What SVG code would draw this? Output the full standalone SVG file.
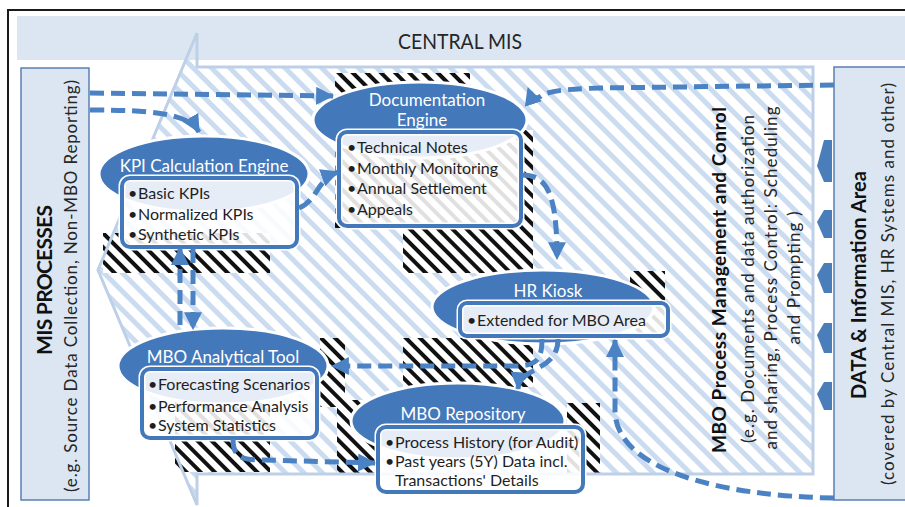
<svg xmlns="http://www.w3.org/2000/svg" width="905" height="507" viewBox="0 0 905 507">
  <defs>
    <!-- pale diagonal hatch used for the big process arrow -->
    <pattern id="paleHatch" patternUnits="userSpaceOnUse" width="13" height="13" patternTransform="rotate(45)">
      <rect width="13" height="13" fill="#ffffff"/>
      <rect width="13" height="5" fill="#cbdcf0"/>
    </pattern>
    <!-- strong black/white diagonal hatch -->
    <pattern id="blackHatch" patternUnits="userSpaceOnUse" width="10" height="10" patternTransform="rotate(45)">
      <rect width="10" height="10" fill="#ffffff"/>
      <rect width="10" height="4" fill="#111111"/>
    </pattern>
    <marker id="arrow" markerUnits="userSpaceOnUse" markerWidth="18" markerHeight="18" viewBox="0 0 16 16" refX="15" refY="8" orient="auto">
      <path d="M0,0 L16,8 L0,16 Z" fill="#4a82c3"/>
    </marker>
  </defs>
  <style>
    .title { font-family: Lato, "Open Sans", sans-serif; font-size: 17px; fill: #ffffff; text-anchor: middle; dominant-baseline: central; }
    .item { font-family: Lato, "Open Sans", sans-serif; font-size: 16px; fill: #1f1f1f; dominant-baseline: central; }
    .ell { fill: #4378bb; stroke: #ffffff; stroke-width: 3; }
    .box { fill: #ffffff; fill-opacity: 0.87; stroke: #4378bb; stroke-width: 4; }
    .halo { fill: none; stroke: #ffffff; stroke-width: 7; }
    .conn { fill: none; stroke: #4a82c3; stroke-width: 5; stroke-dasharray: 14 7; marker-end: url(#arrow); }
    .side { fill: #dce6f2; stroke: #5a80b0; stroke-width: 1.5; }
    .rot { font-family: Lato, "Open Sans", sans-serif; fill: #262626; text-anchor: middle; dominant-baseline: central; }
    .rotb { font-family: Lato, "Open Sans", sans-serif; fill: #111111; font-weight: bold; text-anchor: middle; dominant-baseline: central; }
    .hatch { fill: url(#blackHatch); }
  </style>

  <rect width="905" height="507" fill="#ffffff"/>
  <!-- outer frame -->
  <rect x="8" y="10" width="910" height="520" fill="none" stroke="#1a1a1a" stroke-width="2"/>

  <!-- big left-pointing process arrow (fill) -->
  <polygon points="813,67 197,67 197,33 98,270 197,505 197,474 813,474" fill="url(#paleHatch)"/>

  <!-- black hatched backing blocks -->
  <g id="hatches">
    <path class="hatch" d="M335,73 H470 V130 H533 V273 H403 V228 H335 Z"/>
    <rect class="hatch" x="103" y="233" width="167" height="40"/>
    <rect class="hatch" x="630" y="271" width="35" height="67"/>
    <rect class="hatch" x="403" y="338" width="130" height="49"/>
    <rect class="hatch" x="320" y="338" width="25" height="69"/>
    <rect class="hatch" x="175" y="400" width="95" height="72"/>
    <rect class="hatch" x="337" y="400" width="40" height="73"/>
    <rect class="hatch" x="567" y="403" width="33" height="70"/>
  </g>

  <!-- CENTRAL MIS band -->
  <g id="central-mis">
    <rect x="17" y="16" width="890" height="44" fill="#dce6f2"/>
    <text x="460" y="40" font-family="Lato, 'Open Sans', sans-serif" font-size="21" fill="#262626" text-anchor="middle" dominant-baseline="central" textLength="124" lengthAdjust="spacingAndGlyphs">CENTRAL MIS</text>
  </g>

  <!-- process arrow outline -->
  <polygon points="813,67 197,67 197,33 98,270 197,505 197,474 813,474" fill="none" stroke="#bdd0e8" stroke-width="3" stroke-linejoin="miter"/>

  <!-- left side panel -->
  <g id="mis-processes">
    <rect class="side" x="21" y="68" width="68" height="432"/>
    <text class="rotb" transform="translate(43,280) rotate(-90)" font-size="21" textLength="150">MIS PROCESSES</text>
    <text class="rot" transform="translate(70,286) rotate(-90)" font-size="17" textLength="412">(e.g. Source Data Collection, Non-MBO Reporting)</text>
  </g>

  <!-- right side panel -->
  <g id="data-information">
    <rect class="side" x="834" y="67" width="72" height="433"/>
    <text class="rotb" transform="translate(858,285) rotate(-90)" font-size="20" textLength="228">DATA &amp; Information Area</text>
    <text class="rot" transform="translate(887,284) rotate(-90)" font-size="17" textLength="402">(covered by Central MIS, HR Systems and other)</text>
  </g>

  <!-- inbound block arrows on the data panel -->
  <g id="inbound-arrows" fill="#4a7ebb">
    <polygon points="832,140 824,140 817,166 824,182 832,182"/>
    <polygon points="832,210 824,210 817,222 824,238 832,238"/>
    <polygon points="832,263 824,263 817,275 824,293 832,293"/>
    <polygon points="832,323 824,323 817,335 824,353 832,353"/>
    <polygon points="832,382 824,382 817,394 824,410 832,410"/>
  </g>

  <!-- MBO process management caption -->
  <g id="mbo-process-caption">
    <text class="rotb" transform="translate(718,280) rotate(-90)" font-size="19" textLength="346">MBO Process Management and Conrol</text>
    <text class="rot" transform="translate(747,279) rotate(-90)" font-size="17" textLength="328">(e.g. Documents and data authorization</text>
    <text class="rot" transform="translate(770,278) rotate(-90)" font-size="17" textLength="343">and sharing, Process Control: Scheduling</text>
    <text class="rot" transform="translate(793,278) rotate(-90)" font-size="17" textLength="133">and Prompting )</text>
  </g>

  <!-- nodes -->
  <g id="kpi-engine">
    <ellipse class="ell" cx="204" cy="174" rx="105" ry="38"/>
    <text class="title" x="204" y="165">KPI Calculation Engine</text>
    <rect class="halo" x="122" y="178" width="175" height="69" rx="8"/>
    <rect class="box" x="122" y="178" width="175" height="69" rx="8"/>
    <text class="item" x="128" y="192">•</text><text class="item" x="138" y="192">Basic KPIs</text>
    <text class="item" x="128" y="213">•</text><text class="item" x="138" y="213">Normalized KPIs</text>
    <text class="item" x="128" y="233">•</text><text class="item" x="138" y="233">Synthetic KPIs</text>
  </g>

  <g id="documentation-engine">
    <ellipse class="ell" cx="420" cy="120" rx="107" ry="38"/>
    <text class="title" x="427" y="99">Documentation</text>
    <text class="title" x="422" y="119">Engine</text>
    <rect class="halo" x="339" y="132" width="182" height="94" rx="8"/>
    <rect class="box" x="339" y="132" width="182" height="94" rx="8"/>
    <text class="item" x="347" y="146">•</text><text class="item" x="357" y="146">Technical Notes</text>
    <text class="item" x="347" y="167">•</text><text class="item" x="357" y="167">Monthly Monitoring</text>
    <text class="item" x="347" y="187">•</text><text class="item" x="357" y="187">Annual Settlement</text>
    <text class="item" x="347" y="208">•</text><text class="item" x="357" y="208">Appeals</text>
  </g>

  <g id="hr-kiosk">
    <ellipse class="ell" cx="543" cy="307" rx="111" ry="37"/>
    <text class="title" x="548" y="290">HR Kiosk</text>
    <rect class="halo" x="460" y="303" width="208" height="33" rx="7"/>
    <rect class="box" x="460" y="303" width="208" height="33" rx="7"/>
    <text class="item" x="467" y="319">•</text><text class="item" x="477" y="319">Extended for MBO Area</text>
  </g>

  <g id="mbo-analytical-tool">
    <ellipse class="ell" cx="223" cy="366" rx="105" ry="38"/>
    <text class="title" x="223" y="356">MBO Analytical Tool</text>
    <rect class="halo" x="142" y="369" width="175" height="69" rx="8"/>
    <rect class="box" x="142" y="369" width="175" height="69" rx="8"/>
    <text class="item" x="148" y="383">•</text><text class="item" x="158" y="383">Forecasting Scenarios</text>
    <text class="item" x="148" y="405">•</text><text class="item" x="158" y="405">Performance Analysis</text>
    <text class="item" x="148" y="424">•</text><text class="item" x="158" y="424">System Statistics</text>
  </g>

  <g id="mbo-repository">
    <ellipse class="ell" cx="458" cy="421" rx="107" ry="38"/>
    <text class="title" x="463" y="413">MBO Repository</text>
    <rect class="halo" x="378" y="427" width="205" height="65" rx="8"/>
    <rect class="box" x="378" y="427" width="205" height="65" rx="8"/>
    <text class="item" x="385" y="441">•</text><text class="item" x="395" y="441">Process History (for Audit)</text>
    <text class="item" x="385" y="460">•</text><text class="item" x="395" y="460">Past years (5Y) Data incl.</text>
    <text class="item" x="395" y="479">Transactions' Details</text>
  </g>

  <!-- connectors -->
  <g id="connectors">
    <path class="conn" d="M90,93 L333,96"/>
    <path class="conn" d="M90,110 C150,110 188,113 199,132"/>
    <path class="conn" d="M834,85 L600,88 C565,89 548,91 541,96 C536,100 531,97 528,88"/>
    <path class="conn" d="M299,208 C318,200 316,180 338,172"/>
    <path class="conn" d="M522,175 C548,175 557,195 557,259"/>
    <path class="conn" d="M193,249 L193,329"/>
    <path class="conn" d="M180,325 L180,248"/>
    <path class="conn" d="M542,339 C542,360 536,366 515,366 L332,366"/>
    <path class="conn" d="M558,339 C558,372 520,366 518,389"/>
    <path class="conn" d="M233,439 C233,456 240,460 262,460 L375,463"/>
    <path class="conn" d="M834,498 C720,496 615,470 615,410 L615,340"/>
  </g>
</svg>
